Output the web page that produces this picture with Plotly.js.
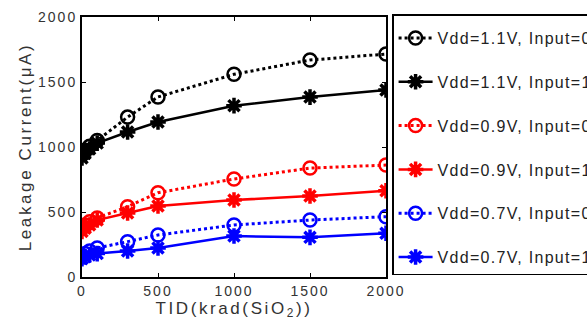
<!DOCTYPE html>
<html><head><meta charset="utf-8">
<script src="https://cdn.plot.ly/plotly-3.0.1.min.js"></script>
<style>
body{margin:0;padding:0;background:#fff;overflow:hidden}
#chart{width:587px;height:331px}
.xtick text,.ytick text{letter-spacing:2px}
.legendtext{letter-spacing:1.3px}
.g-xtitle text,.g-ytitle text{letter-spacing:2.6px}
</style>
</head><body><div id="chart"></div>
<script>
const tid = [0, 20, 50, 100, 300, 500, 1000, 1500, 2000];
const names = ["Vdd=1.1V, Input=0","Vdd=1.1V, Input=1","Vdd=0.9V, Input=0","Vdd=0.9V, Input=1","Vdd=0.7V, Input=0","Vdd=0.7V, Input=1"];
const v11_in0 = [940, 975, 1005, 1050, 1230, 1385, 1559, 1669, 1715];
const v11_in1 = [915, 950, 985, 1030, 1115, 1192, 1318, 1384, 1438];
const v09_in0 = [375, 400, 425, 454, 541, 648, 754, 838, 861];
const v09_in1 = [350, 375, 400, 438, 492, 546, 592, 623, 664];
const v07_in0 = [160, 180, 200, 223, 272, 323, 400, 438, 464];
const v07_in1 = [140, 155, 170, 180, 200, 223, 315, 305, 336];
const series = [v11_in0, v11_in1, v09_in0, v09_in1, v07_in0, v07_in1];
const colors = ["#000000","#000000","#ff0000","#ff0000","#0000ff","#0000ff"];

const traces = series.map((ys, i) => {
  const open = i % 2 === 0;
  return {
    x: tid, y: ys, name: names[i], type: "scatter", mode: "lines+markers",
    legendgroup: "g" + i,
    line: {color: colors[i], width: open ? 3 : 2.5, dash: open ? "dot" : "solid"},
    marker: open
      ? {symbol: "circle-open", size: 13, color: colors[i], line: {width: 2.5, color: colors[i]}}
      : {symbol: "asterisk-open", size: 13, color: colors[i], line: {width: 3.5, color: colors[i]}}
  };
});

const layout = {
  width: 587, height: 331,
  margin: {l: 82, r: 201, t: 17, b: 54, autoexpand: false},
  paper_bgcolor: "#fff", plot_bgcolor: "#fff",
  font: {family: "Liberation Sans, Arial, sans-serif", color: "#333"},
  xaxis: {
    range: [0, 2000], tickvals: [0, 500, 1000, 1500, 2000],
    ticks: "inside", ticklen: 4, tickcolor: "#000", showgrid: false, zeroline: false,
    showline: true, linecolor: "#000", linewidth: 2, mirror: "ticks",
    tickfont: {size: 14, color: "#333"},
    title: {text: "TID(krad(SiO<sub>2</sub>))", font: {size: 17, color: "#333"}, standoff: 4}
  },
  yaxis: {
    range: [0, 2000], tickvals: [0, 500, 1000, 1500, 2000],
    ticks: "inside", ticklen: 4, tickcolor: "#000", showgrid: false, zeroline: false,
    showline: true, linecolor: "#000", linewidth: 2, mirror: "ticks",
    tickfont: {size: 14, color: "#333"},
    title: {text: "Leakage Current(μA)", font: {size: 17, color: "#333"}, standoff: 2}
  },
  showlegend: true,
  legend: {
    x: 1.02, xanchor: "left", y: 1.01, yanchor: "top", maxheight: 320,
    bordercolor: "#000", borderwidth: 1.5, bgcolor: "#fff",
    title: {text: " ", font: {size: 4}},
    font: {size: 16, color: "#222"}, tracegroupgap: 20, itemwidth: 34
  }
};
Plotly.newPlot("chart", traces, layout, {displayModeBar: false, staticPlot: true});
</script></body></html>
